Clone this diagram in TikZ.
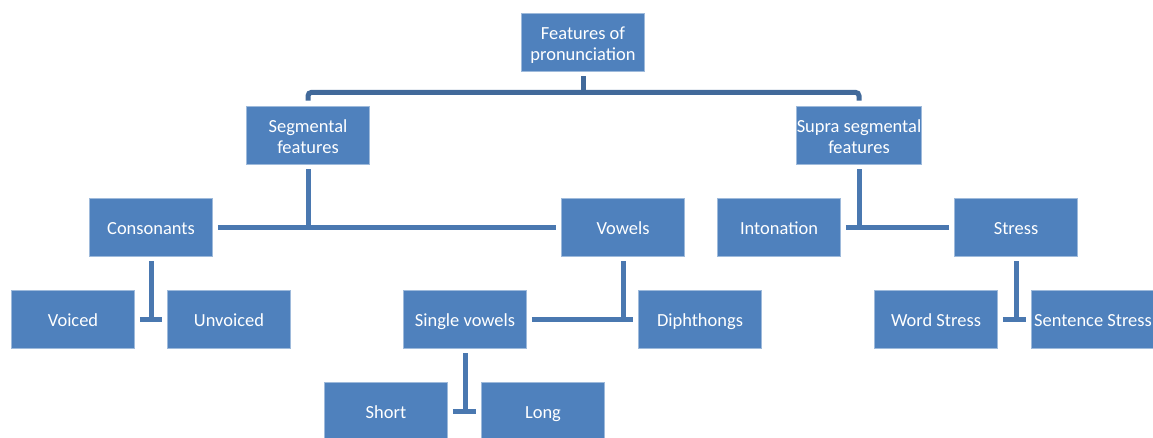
\documentclass[tikz,border=0pt]{standalone}
\usepackage{fontspec}
\setmainfont{Carlito}
\usepackage{xcolor}
\definecolor{box-blue}{HTML}{4F81BD}
\definecolor{link-blue}{HTML}{4A78B0}
\definecolor{top-link}{HTML}{41699A}
\newcommand{\lowfirst}{\rule{0pt}{12.5pt}}

\begin{document}
\begin{tikzpicture}[
    box/.style={draw=box-blue!55!white, line width=0.4pt, fill=box-blue,
      minimum width=2.46cm, minimum height=1.16cm, inner xsep=0pt,
      inner ysep=1pt, align=center, text=white,
      font=\fontsize{10.5}{12}\selectfont,
      execute at begin node=\rule{0pt}{11pt},
      execute at end node=\rule[-3pt]{0pt}{3pt}},
    link/.style={draw=link-blue, line width=0.1cm},
    toplink/.style={draw=top-link, line width=0.1cm}]
    \useasboundingbox (0,0) rectangle (23.06,-8.74);
    % levels, top to bottom
    \node[box] (feat) at (11.66,-0.84) {\lowfirst Features of\\pronunciation};
    \node[box] (seg) at (6.16,-2.70) {\lowfirst Segmental\\features};
    \node[box] (sup) at (17.18,-2.70) {\lowfirst Supra segmental\\features};
    \node[box] (cons) at (3.02,-4.54) {Consonants};
    \node[box] (vow) at (12.46,-4.54) {Vowels};
    \node[box] (inton) at (15.58,-4.54) {Intonation};
    \node[box] (stress) at (20.32,-4.54) {Stress};
    \node[box] (voiced) at (1.46,-6.38) {Voiced};
    \node[box] (unvoiced) at (4.58,-6.38) {Unvoiced};
    \node[box] (single) at (9.30,-6.38) {Single vowels};
    \node[box] (diph) at (14.00,-6.38) {Diphthongs};
    \node[box] (word) at (18.72,-6.38) {Word Stress};
    \node[box] (sent) at (21.86,-6.38) {Sentence Stress};
    \node[box] (short) at (7.72,-8.22) {Short};
    \node[box] (long) at (10.86,-8.22) {Long};
    % connectors
    \draw[toplink] ([yshift=-1mm]feat.south) -- ([yshift=-4.2mm]feat.south);
    \draw[toplink, rounded corners=2pt] ([yshift=1mm]seg.north)
      |- ([yshift=-4.2mm]feat.south) -| ([yshift=1mm]sup.north);
    \draw[link] ([yshift=-1mm]seg.south) -- (seg |- cons);
    \draw[link] ([xshift=1mm]cons.east) -- ([xshift=-1mm]vow.west);
    \draw[link] ([yshift=-1mm]sup.south) -- (sup |- inton);
    \draw[link] ([xshift=1mm]inton.east) -- ([xshift=-1mm]stress.west);
    \draw[link] ([yshift=-1mm]cons.south) -- (cons |- voiced);
    \draw[link] ([xshift=1mm]voiced.east) -- ([xshift=-1mm]unvoiced.west);
    \draw[link] ([yshift=-1mm]vow.south) -- (vow |- single);
    \draw[link] ([xshift=1mm]single.east) -- ([xshift=-1mm]diph.west);
    \draw[link] ([yshift=-1mm]stress.south) -- (stress |- word);
    \draw[link] ([xshift=1mm]word.east) -- ([xshift=-1mm]sent.west);
    \draw[link] ([yshift=-1mm]single.south) -- (single |- short);
    \draw[link] ([xshift=1mm]short.east) -- ([xshift=-1mm]long.west);
  \end{tikzpicture}
\end{document}
